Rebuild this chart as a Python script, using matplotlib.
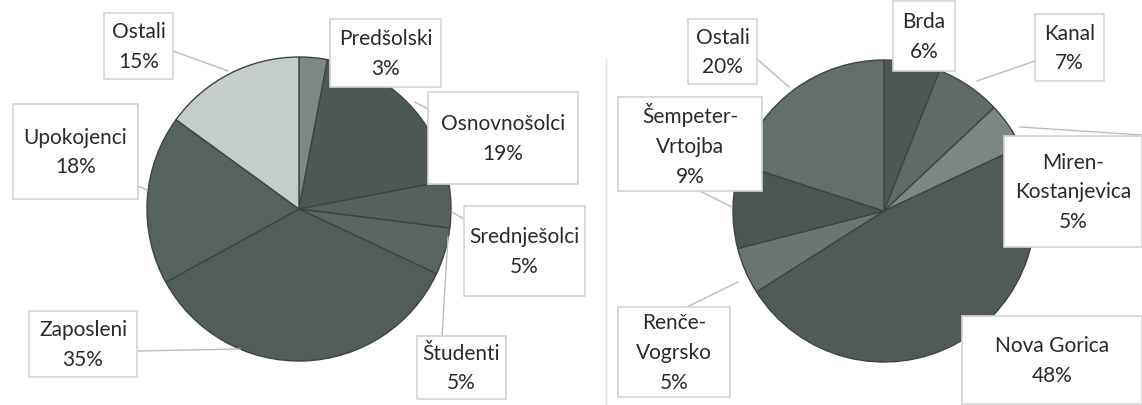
import matplotlib
matplotlib.use("Agg")
import matplotlib.pyplot as plt
from matplotlib.patches import Rectangle

W, H = 1142, 406

# ---- data ----
left_labels = ["Predšolski", "Osnovnošolci", "Srednješolci", "Študenti",
               "Zaposleni", "Upokojenci", "Ostali"]
left_values = [3, 19, 5, 5, 35, 18, 15]
left_colors = ["#7d8885", "#4d5856", "#56615f", "#5a6462", "#525d5b",
               "#566260", "#c4cdcb"]
left_explode = [0.03, 0.02, 0.02, 0.0, 0.0, 0.0, 0.0]

right_labels = ["Brda", "Kanal", "Miren-\nKostanjevica", "Nova Gorica",
                "Renče-\nVogrsko", "Šempeter-\nVrtojba", "Ostali"]
right_values = [6, 7, 5, 48, 5, 9, 20]
right_colors = ["#4d5856", "#5f6a68", "#7c8785", "#505b59", "#6b7674",
                "#4b5654", "#646f6d"]
right_explode = [0.0, 0.02, 0.04, 0.02, 0.0, 0.0, 0.0]

# label boxes (pixel coords: x0, y0, x1, y1)
left_boxes = {
    "Predšolski": (330, 20, 441, 88),
    "Osnovnošolci": (428, 93, 578, 185),
    "Srednješolci": (464, 207, 585, 297),
    "Študenti": (417, 337, 506, 400),
    "Zaposleni": (29, 312, 137, 378),
    "Upokojenci": (13, 105, 138, 200),
    "Ostali": (104, 14, 173, 80),
}
left_leaders = {
    "Ostali": [(173, 52), (228, 72)],
    "Upokojenci": [(138, 187), (147, 191)],
    "Zaposleni": [(137, 352), (240, 350)],
    "Študenti": [(442, 337), (448, 238)],
    "Srednješolci": [(464, 220), (452, 213)],
    "Osnovnošolci": [(428, 110), (415, 103)],
}
right_boxes = {
    "Brda": (893, 2, 955, 72),
    "Kanal": (1035, 15, 1104, 82),
    "Miren-\nKostanjevica": (1004, 137, 1142, 248),
    "Nova Gorica": (962, 317, 1142, 405),
    "Renče-\nVogrsko": (618, 308, 730, 398),
    "Šempeter-\nVrtojba": (618, 98, 762, 192),
    "Ostali": (688, 20, 757, 85),
}
right_leaders = {
    "Ostali": [(757, 60), (789, 88)],
    "Kanal": [(1035, 62), (977, 82)],
    "Miren-\nKostanjevica": [(1020, 128), (1142, 136)],
    "Šempeter-\nVrtojba": [(700, 192), (732, 208)],
    "Renče-\nVogrsko": [(687, 308), (738, 283)],
}

plt.rcParams['font.family'] = ['Lato', 'DejaVu Sans']

fig = plt.figure(figsize=(W / 100, H / 100), dpi=100)
ax = fig.add_axes([0, 0, 1, 1])


def Y(y):
    return H - y


def draw_pie(values, colors, explode, cx, cy, r):
    wedges, _ = ax.pie(values, colors=colors, explode=explode, startangle=90,
                       counterclock=False, center=(cx, Y(cy)), radius=r,
                       wedgeprops=dict(edgecolor="#3c4543", linewidth=1.0),
                       frame=True)
    for w in wedges:
        w.set_zorder(2)


def draw_labels(labels, values, boxes, leaders):
    for lab, v in zip(labels, values):
        x0, y0, x1, y1 = boxes[lab]
        if lab in leaders:
            pts = leaders[lab]
            ax.plot([p[0] for p in pts], [Y(p[1]) for p in pts],
                    color="#b8bcbb", lw=1.0, zorder=3)
        ax.add_patch(Rectangle((x0, Y(y1)), x1 - x0, y1 - y0,
                               facecolor="white", edgecolor="#d2d4d3",
                               lw=1.2, zorder=4))
        ax.text((x0 + x1) / 2, Y((y0 + y1) / 2), f"{lab}\n{v}%",
                ha="center", va="center", fontsize=15, color="#2a2a2a",
                linespacing=1.6, zorder=5)


draw_pie(left_values, left_colors, left_explode, 299, 210, 152)
draw_pie(right_values, right_colors, right_explode, 884, 212, 151)
draw_labels(left_labels, left_values, left_boxes, left_leaders)
draw_labels(right_labels, right_values, right_boxes, right_leaders)

ax.plot([606, 606], [Y(60), Y(406)], color="#e2e4e3", lw=1.0, zorder=1)

ax.set_xlim(0, W)
ax.set_ylim(0, H)
ax.set_aspect("equal")
ax.axis("off")
fig.savefig("out.png", dpi=100, facecolor="white")
